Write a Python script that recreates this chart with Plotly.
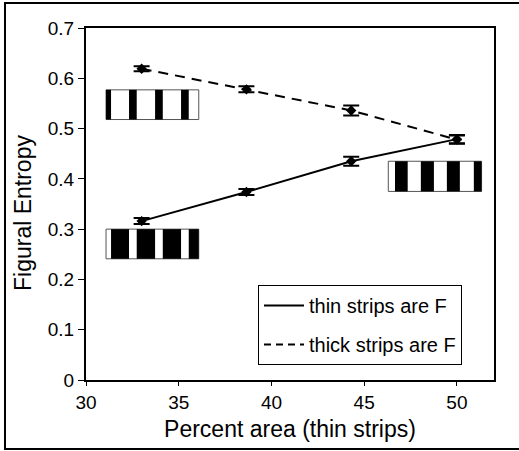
import plotly.graph_objects as go

# ---- data ----
percent_area = [33.0, 38.65, 44.3, 50.0]
thin_F = [0.316, 0.374, 0.435, 0.479]
thin_F_err = [0.006, 0.006, 0.009, 0.008]
thick_F = [0.619, 0.578, 0.536, 0.478]
thick_F_err = [0.005, 0.006, 0.010, 0.008]
series_names = ["thin strips are F", "thick strips are F"]
x_ticks = [30, 35, 40, 45, 50]
y_ticks = [0, 0.1, 0.2, 0.3, 0.4, 0.5, 0.6, 0.7]

FONT = "Arial, Liberation Sans, Helvetica, sans-serif"

fig = go.Figure()

# data traces
fig.add_trace(go.Scatter(
    x=percent_area, y=thin_F, mode="lines+markers", showlegend=False,
    line=dict(color="black", width=2),
    marker=dict(symbol="diamond", size=8, color="black"),
    error_y=dict(type="data", array=thin_F_err, color="black", thickness=2, width=8),
))
fig.add_trace(go.Scatter(
    x=percent_area, y=thick_F, mode="lines+markers", showlegend=False,
    line=dict(color="black", width=2, dash="10px,7px"),
    marker=dict(symbol="diamond", size=8, color="black"),
    error_y=dict(type="data", array=thick_F_err, color="black", thickness=2, width=8),
))
# legend-only entries (line samples only)
fig.add_trace(go.Scatter(x=[None], y=[None], mode="lines", name=series_names[0],
                         legendgroup="a", line=dict(color="black", width=2)))
fig.add_trace(go.Scatter(x=[None], y=[None], mode="lines", name=series_names[1],
                         legendgroup="b", line=dict(color="black", width=2, dash="7px,5px")))

# ---- stripe pictograms (layout decorations) ----
shapes = []
def pictogram(x0, x1, y0, y1, black_fracs):
    shapes.append(dict(type="rect", xref="x", yref="y", x0=x0, x1=x1, y0=y0, y1=y1,
                       fillcolor="white", line=dict(color="#555555", width=1), layer="above"))
    for a, b in black_fracs:
        shapes.append(dict(type="rect", xref="x", yref="y",
                           x0=x0 + a * (x1 - x0), x1=x0 + b * (x1 - x0), y0=y0, y1=y1,
                           fillcolor="black", line=dict(width=0), layer="above"))

pictogram(31.08, 36.08, 0.518, 0.577,
          [(0.0, 0.054), (0.248, 0.331), (0.529, 0.612), (0.809, 0.892)])
pictogram(31.08, 36.08, 0.241, 0.300,
          [(0.054, 0.248), (0.331, 0.529), (0.612, 0.809), (0.892, 1.0)])
pictogram(46.30, 51.33, 0.375, 0.435,
          [(0.072, 0.208), (0.349, 0.489), (0.628, 0.767), (0.917, 1.0)])

# outer figure frame (open on the right, as in the cropped original)
W, H = 519, 451
ml, mr, mt, mb = 86, 25, 28, 71
pw, ph = W - ml - mr, H - mt - mb
def px_to_paper_x(px):
    return (px - ml) / pw
def px_to_paper_y(py):
    return (H - mb - py) / ph
fx0, fx1 = px_to_paper_x(5), px_to_paper_x(540)
fy0, fy1 = px_to_paper_y(449), px_to_paper_y(3)
shapes.append(dict(type="path", xref="paper", yref="paper",
                   path=f"M {fx1},{fy1} L {fx0},{fy1} L {fx0},{fy0} L {fx1},{fy0}",
                   line=dict(color="black", width=2), layer="below"))

fig.add_annotation(
    text="Figural Entropy", textangle=-90, showarrow=False,
    xref="paper", yref="paper", x=px_to_paper_x(23), y=px_to_paper_y(213),
    xanchor="center", yanchor="middle", font=dict(family=FONT, size=23, color="black"),
)

fig.update_layout(
    width=W, height=H,
    margin=dict(l=ml, r=mr, t=mt, b=mb, pad=0, autoexpand=False),
    paper_bgcolor="white", plot_bgcolor="white",
    font=dict(family=FONT, color="black", size=19),
    shapes=shapes,
    showlegend=True,
    legend=dict(
        x=px_to_paper_x(258), y=px_to_paper_y(285), xanchor="left", yanchor="top",
        bordercolor="black", borderwidth=1, bgcolor="white",
        font=dict(family=FONT, size=20, color="black"),
        tracegroupgap=10, itemwidth=40,
    ),
    xaxis=dict(
        range=[30, 52], tickvals=x_ticks, ticktext=[str(v) for v in x_ticks],
        showgrid=False, zeroline=False,
        showline=True, linecolor="black", linewidth=2, mirror=True,
        ticks="outside", ticklen=4, tickwidth=1, tickcolor="black",
        tickfont=dict(size=19),
        title=dict(text="Percent area (thin strips)", font=dict(size=23), standoff=9),
    ),
    yaxis=dict(
        range=[0, 0.7], tickvals=y_ticks, ticktext=["0", "0.1", "0.2", "0.3", "0.4", "0.5", "0.6", "0.7"],
        showgrid=False, zeroline=False,
        showline=True, linecolor="black", linewidth=2, mirror=True,
        ticks="outside", ticklen=6, tickwidth=1, tickcolor="black",
        tickfont=dict(size=19),
    ),
)

fig.write_html(
    "out.html", config={"displayModeBar": False},
    post_script=("document.body.style.margin='0px';"
                 "document.body.style.overflow='hidden';"
                 "document.documentElement.style.overflow='hidden';"),
)
